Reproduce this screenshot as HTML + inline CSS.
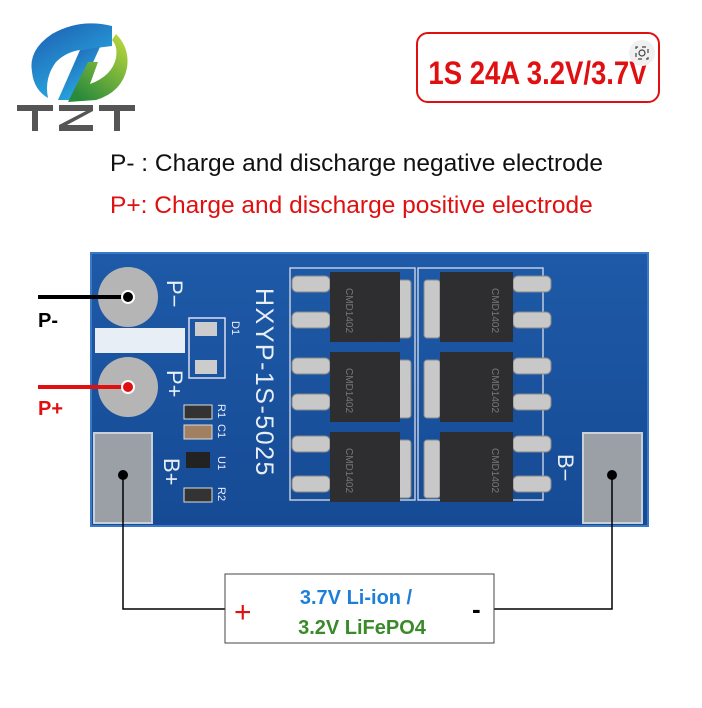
<!DOCTYPE html>
<html><head><meta charset="utf-8"><style>
html,body{margin:0;padding:0;background:#fff;}
body{width:702px;height:708px;overflow:hidden;position:relative;font-family:"Liberation Sans",sans-serif;}
</style></head><body>
<svg width="702" height="708" viewBox="0 0 702 708" xmlns="http://www.w3.org/2000/svg" style="position:absolute;left:0;top:0">
<defs>
<linearGradient id="gb" x1="0" y1="0" x2="0.6" y2="1"><stop offset="0" stop-color="#1d5bb0"/><stop offset="1" stop-color="#2ab0e4"/></linearGradient>
<linearGradient id="gg" x1="1" y1="0" x2="0.3" y2="1"><stop offset="0" stop-color="#c4dc3c"/><stop offset="1" stop-color="#2a8a3c"/></linearGradient>
<linearGradient id="pcb" x1="0" y1="0" x2="0" y2="1"><stop offset="0" stop-color="#1e5aa8"/><stop offset="1" stop-color="#164a94"/></linearGradient>
</defs>
<!-- logo -->
<path d="M112 26 Q80 18 52 34 Q28 50 32 72 Q34 90 48 98 Q44 78 56 62 Q66 52 80 50 L112 46Z" fill="url(#gb)"/>
<path d="M80 50 L100 47 L76 100 L58 100Z" fill="url(#gb)"/>
<path d="M116 34 Q130 48 127 68 Q122 92 96 100 L68 102 L88 62 L98 62 L90 84 Q112 76 116 58 Q118 46 112 40Z" fill="url(#gg)"/>
<g fill="#555">
<rect x="17" y="105" width="36" height="6"/><rect x="32" y="105" width="6" height="26"/>
<rect x="59" y="105" width="34" height="6"/><rect x="59" y="125" width="34" height="6"/>
<polygon points="86,111 93,111 67,125 59,125"/>
<rect x="99" y="105" width="36" height="6"/><rect x="114" y="105" width="6" height="26"/>
</g>
<!-- badge -->
<rect x="417" y="33" width="242" height="69" rx="11" fill="#fff" stroke="#e01010" stroke-width="2"/>
<text x="538" y="84" font-size="32" font-weight="bold" fill="#e01010" text-anchor="middle" transform="translate(538 0) scale(0.86 1) translate(-538 0)">1S 24A 3.2V/3.7V</text>
<circle cx="642" cy="53" r="13" fill="#f0f0f0"/>
<rect x="636" y="47" width="12" height="12" fill="none" stroke="#444" stroke-width="1.2" stroke-dasharray="4 4" stroke-dashoffset="2"/>
<circle cx="642" cy="53" r="3" fill="none" stroke="#444" stroke-width="1.2"/>
<!-- descriptions -->
<text x="110" y="171" font-size="24.5" fill="#111">P- : Charge and discharge negative electrode</text>
<text x="110" y="213" font-size="24.5" fill="#e01010">P+: Charge and discharge positive electrode</text>
<!-- pcb -->
<rect x="91" y="253" width="557" height="273" fill="url(#pcb)"/>
<rect x="91" y="253" width="557" height="273" fill="none" stroke="#3a78c8" stroke-width="2"/>
<circle cx="128" cy="297" r="30" fill="#b5b5b5"/>
<circle cx="128" cy="387" r="30" fill="#b5b5b5"/>
<rect x="95" y="328" width="90" height="25" fill="#e8eef5"/>
<rect x="94" y="433" width="58" height="90" fill="#9aa0a6" stroke="#c8d0d8" stroke-width="2"/>
<rect x="583" y="433" width="59" height="90" fill="#9aa0a6" stroke="#c8d0d8" stroke-width="2"/>
<g fill="#e8eef5" font-size="22" font-family="Liberation Sans">
<text transform="translate(167 280) rotate(90)">P−</text>
<text transform="translate(167 370) rotate(90)">P+</text>
<text transform="translate(164 458) rotate(90)">B+</text>
<text transform="translate(558 454) rotate(90)">B−</text>
<text transform="translate(256 288) rotate(90)" font-size="25" letter-spacing="1.5">HXYP-1S-5025</text>
</g>
<g fill="#eef" font-size="11">
<text transform="translate(232 321) rotate(90)">D1</text>
<text transform="translate(218 404) rotate(90)">R1</text>
<text transform="translate(218 424) rotate(90)">C1</text>
<text transform="translate(218 456) rotate(90)">U1</text>
<text transform="translate(218 487) rotate(90)">R2</text>
</g>
<rect x="189" y="318" width="36" height="60" fill="none" stroke="#dde" stroke-width="1.5"/>
<rect x="195" y="322" width="22" height="14" fill="#ccc"/>
<rect x="195" y="360" width="22" height="14" fill="#ccc"/>
<rect x="184" y="405" width="28" height="14" fill="#333" stroke="#ddd"/>
<rect x="184" y="425" width="28" height="14" fill="#a08060" stroke="#ddd"/>
<rect x="186" y="452" width="24" height="16" fill="#222"/>
<rect x="184" y="488" width="28" height="14" fill="#333" stroke="#ddd"/>
<!-- mosfets -->
<g>
<rect x="290" y="268" width="125" height="232" fill="none" stroke="#c0ccdd" stroke-width="1.5"/>
<rect x="418" y="268" width="125" height="232" fill="none" stroke="#c0ccdd" stroke-width="1.5"/>
<g fill="#c8c8c8" stroke="#888">
<rect x="292" y="276" width="38" height="16" rx="5"/><rect x="292" y="312" width="38" height="16" rx="5"/>
<rect x="292" y="358" width="38" height="16" rx="5"/><rect x="292" y="394" width="38" height="16" rx="5"/>
<rect x="292" y="436" width="38" height="16" rx="5"/><rect x="292" y="476" width="38" height="16" rx="5"/>
<rect x="513" y="276" width="38" height="16" rx="5"/><rect x="513" y="312" width="38" height="16" rx="5"/>
<rect x="513" y="358" width="38" height="16" rx="5"/><rect x="513" y="394" width="38" height="16" rx="5"/>
<rect x="513" y="436" width="38" height="16" rx="5"/><rect x="513" y="476" width="38" height="16" rx="5"/>
<rect x="395" y="280" width="16" height="58" rx="3"/><rect x="395" y="360" width="16" height="58" rx="3"/><rect x="395" y="440" width="16" height="58" rx="3"/>
<rect x="424" y="280" width="16" height="58" rx="3"/><rect x="424" y="360" width="16" height="58" rx="3"/><rect x="424" y="440" width="16" height="58" rx="3"/>
</g>
<g fill="#2e2e30">
<rect x="330" y="272" width="70" height="70"/><rect x="330" y="352" width="70" height="70"/><rect x="330" y="432" width="70" height="70"/>
<rect x="440" y="272" width="73" height="70"/><rect x="440" y="352" width="73" height="70"/><rect x="440" y="432" width="73" height="70"/>
</g>
<g fill="#777" font-size="10">
<text transform="translate(346 288) rotate(90)">CMD1402</text><text transform="translate(346 368) rotate(90)">CMD1402</text><text transform="translate(346 448) rotate(90)">CMD1402</text>
<text transform="translate(492 288) rotate(90)">CMD1402</text><text transform="translate(492 368) rotate(90)">CMD1402</text><text transform="translate(492 448) rotate(90)">CMD1402</text>
</g>
</g>
<!-- wires -->
<line x1="38" y1="297" x2="128" y2="297" stroke="#000" stroke-width="4"/>
<circle cx="128" cy="297" r="6" fill="#000" stroke="#fff" stroke-width="2"/>
<line x1="38" y1="387" x2="128" y2="387" stroke="#e01010" stroke-width="4"/>
<circle cx="128" cy="387" r="6" fill="#e01010" stroke="#fff" stroke-width="2"/>
<text x="38" y="327" font-size="20" font-weight="bold" fill="#000">P-</text>
<text x="38" y="415" font-size="20" font-weight="bold" fill="#e01010">P+</text>
<circle cx="123" cy="475" r="5" fill="#000"/>
<circle cx="612" cy="475" r="5" fill="#000"/>
<polyline points="123,475 123,609 225,609" fill="none" stroke="#000" stroke-width="1.5"/>
<polyline points="612,475 612,609 494,609" fill="none" stroke="#000" stroke-width="1.5"/>
<rect x="225" y="574" width="269" height="69" fill="#fff" stroke="#444" stroke-width="1"/>
<text x="234" y="622" font-size="30" fill="#e01010">+</text>
<text x="472" y="618" font-size="26" font-weight="bold" fill="#000">-</text>
<text x="356" y="604" font-size="20" font-weight="bold" fill="#1e7fd8" text-anchor="middle">3.7V Li-ion /</text>
<text x="362" y="634" font-size="20" font-weight="bold" fill="#3a8a2a" text-anchor="middle">3.2V LiFePO4</text>
</svg>
</body></html>
